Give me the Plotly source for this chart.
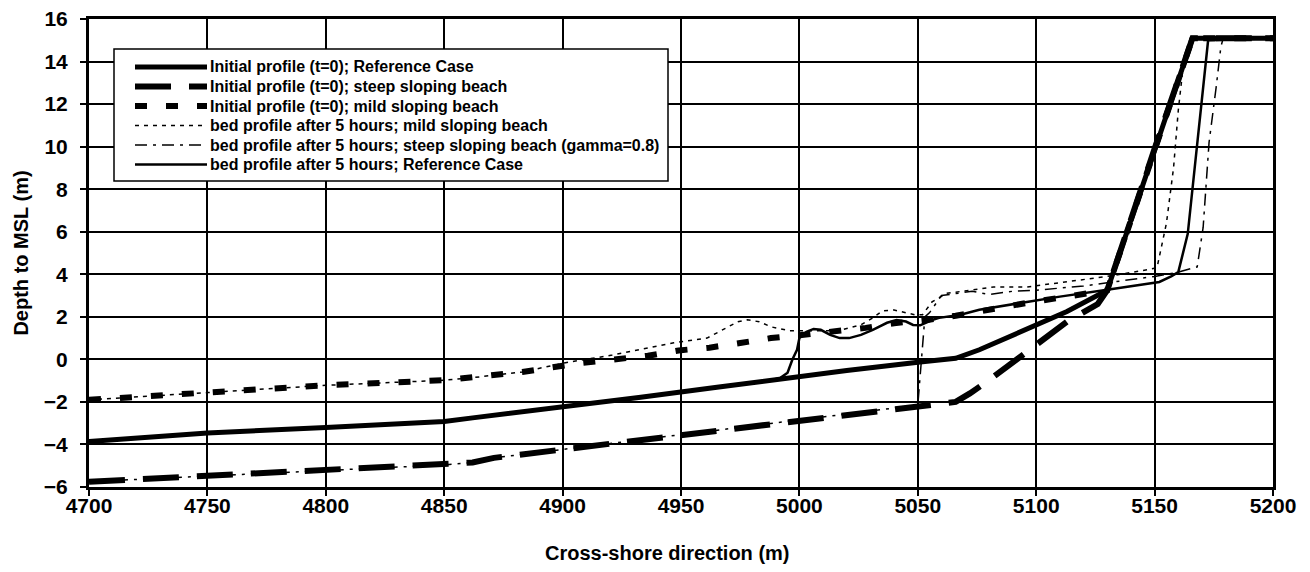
import plotly.graph_objects as go

# Bed level (m relative to MSL) along the cross-shore axis (m)

# Initial profile, reference case
ref0_x = [4700, 4750, 4800, 4850, 4862, 4900, 4933, 4966, 4992, 5020, 5051, 5066, 5076, 5096, 5113, 5130, 5150, 5166, 5200]
ref0_y = [-3.86, -3.46, -3.20, -2.92, -2.75, -2.25, -1.78, -1.30, -0.92, -0.52, -0.12, 0.05, 0.45, 1.39, 2.25, 3.25, 9.9, 15.1, 15.1]

# Initial profile, steep sloping beach
steep0_x = [4700, 4750, 4800, 4850, 4862, 4871, 4899, 4950, 5000, 5025, 5044, 5054, 5066, 5072, 5079, 5096, 5103, 5113, 5126, 5130, 5150, 5166, 5200]
steep0_y = [-5.75, -5.48, -5.23, -4.96, -4.85, -4.63, -4.25, -3.54, -2.85, -2.50, -2.23, -2.10, -2.00, -1.60, -1.06, 0.35, 0.92, 1.77, 2.60, 3.25, 9.9, 15.1, 15.1]

# Initial profile, mild sloping beach
mild0_x = [4700, 4724, 4750, 4800, 4850, 4862, 4883, 4908, 4922, 4936, 4949, 4962, 4975, 4988, 5001, 5014, 5028, 5040, 5054, 5066, 5096, 5130, 5150, 5166, 5200]
mild0_y = [-1.90, -1.75, -1.56, -1.22, -0.98, -0.86, -0.59, -0.17, 0.00, 0.17, 0.42, 0.55, 0.77, 1.00, 1.15, 1.29, 1.48, 1.70, 1.85, 2.05, 2.65, 3.25, 9.9, 15.1, 15.1]

# Bed profile after 5 hours, mild sloping beach
mild5_x = [4700, 4724, 4750, 4800, 4850, 4862, 4883, 4903, 4921, 4934, 4947, 4961, 4969, 4974, 4978, 4983, 4988, 4992, 4996, 5005, 5012, 5018, 5026, 5031, 5035, 5040, 5045, 5049, 5052, 5056, 5062, 5068, 5082, 5096, 5110, 5121, 5130, 5141, 5151, 5155, 5158, 5160, 5162, 5165, 5200]
mild5_y = [-1.90, -1.75, -1.56, -1.22, -0.98, -0.86, -0.59, -0.12, 0.20, 0.49, 0.78, 1.00, 1.49, 1.77, 1.86, 1.77, 1.53, 1.43, 1.34, 1.35, 1.35, 1.39, 1.62, 1.95, 2.28, 2.32, 2.19, 2.09, 2.10, 2.70, 3.10, 3.20, 3.40, 3.40, 3.60, 3.74, 3.90, 4.10, 4.30, 6.4, 9.0, 11.7, 13.7, 15.1, 15.1]

# Bed profile after 5 hours, steep sloping beach (gamma=0.8)
steep5_x = [4700, 4750, 4800, 4850, 4862, 4871, 4899, 4950, 5000, 5025, 5044, 5050, 5053, 5055, 5060, 5066, 5073, 5080, 5090, 5100, 5110, 5120, 5130, 5140, 5150, 5160, 5168, 5170.5, 5173, 5176, 5178, 5179, 5200]
steep5_y = [-5.75, -5.48, -5.23, -4.96, -4.85, -4.63, -4.25, -3.54, -2.85, -2.50, -2.23, -2.15, 2.00, 2.20, 3.00, 3.10, 3.20, 3.05, 3.20, 3.25, 3.35, 3.45, 3.60, 3.75, 3.90, 4.10, 4.35, 6.2, 10.2, 12.8, 14.7, 15.1, 15.1]

# Bed profile after 5 hours, reference case
ref5_x = [4700, 4750, 4800, 4850, 4862, 4900, 4933, 4966, 4988, 4992, 4995, 4997, 4999, 5000, 5003, 5006, 5009, 5013, 5017, 5021, 5026, 5031, 5037, 5041, 5045, 5048, 5051, 5056, 5059, 5068, 5076, 5096, 5110, 5130, 5140, 5152, 5157, 5160, 5164, 5168, 5172.6, 5200]
ref5_y = [-3.86, -3.46, -3.20, -2.92, -2.75, -2.25, -1.78, -1.30, -0.98, -0.87, -0.63, -0.02, 0.45, 1.00, 1.29, 1.43, 1.39, 1.15, 1.00, 1.00, 1.15, 1.39, 1.72, 1.85, 1.78, 1.62, 1.60, 1.85, 1.95, 2.10, 2.33, 2.70, 2.95, 3.27, 3.45, 3.64, 3.90, 4.10, 5.9, 10.0, 15.0, 15.1]

legend_labels = [
    "Initial profile (t=0); Reference Case",
    "Initial profile (t=0); steep sloping beach",
    "Initial profile (t=0); mild sloping beach",
    "bed profile after 5 hours; mild sloping beach",
    "bed profile after 5 hours; steep sloping beach (gamma=0.8)",
    "bed profile after 5 hours; Reference Case",
]

x_ticks = [4700, 4750, 4800, 4850, 4900, 4950, 5000, 5050, 5100, 5150, 5200]
y_ticks = [-6, -4, -2, 0, 2, 4, 6, 8, 10, 12, 14, 16]

FONT = "Liberation Sans, Arial, sans-serif"
FIG_W, FIG_H = 1310, 572
ML, MR, MT, MB = 89, 37, 19, 85
PW = FIG_W - ML - MR
PH = FIG_H - MT - MB

# line styles: (width, dash)
styles = [
    (5, "solid"),
    (6, "36px,18px"),
    (6, "12px,19px"),
    (1.5, "4px,5px"),
    (1.5, "12px,6px,3px,6px"),
    (2.5, "solid"),
]
data = [
    (ref0_x, ref0_y),
    (steep0_x, steep0_y),
    (mild0_x, mild0_y),
    (mild5_x, mild5_y),
    (steep5_x, steep5_y),
    (ref5_x, ref5_y),
]

fig = go.Figure()
for (xs, ys), (w, dash), name in zip(data, styles, legend_labels):
    fig.add_trace(go.Scatter(
        x=xs, y=ys, mode="lines", name=name, showlegend=False,
        line=dict(color="black", width=w, dash=dash),
    ))


def fx(px):
    return (px - ML) / PW


def fy(py):
    return (FIG_H - MB - py) / PH


# Legend box with long line samples
shapes = [dict(type="rect", xref="paper", yref="paper",
               x0=fx(114), x1=fx(668), y0=fy(181), y1=fy(49),
               line=dict(color="black", width=1.5), fillcolor="white", layer="above")]
annotations = []
row_y = [67, 86.5, 106, 125.5, 145, 164.5]
for (w, dash), label, ry in zip(styles, legend_labels, row_y):
    shapes.append(dict(type="line", xref="paper", yref="paper",
                       x0=fx(135), x1=fx(207), y0=fy(ry), y1=fy(ry),
                       line=dict(color="black", width=w, dash=dash), layer="above"))
    annotations.append(dict(xref="paper", yref="paper", x=fx(208), y=fy(ry),
                            xanchor="left", yanchor="middle", showarrow=False,
                            text=label,
                            font=dict(family=FONT, size=16, color="black", weight="bold")))

# x-axis title, centred on the chart area
annotations.append(dict(xref="paper", yref="paper", x=fx(667), y=fy(553),
                        xanchor="center", yanchor="middle", showarrow=False,
                        text="Cross-shore direction (m)",
                        font=dict(family=FONT, size=20, color="black", weight="bold")))

axis_common = dict(
    showline=True, linecolor="black", linewidth=3, mirror=True,
    showgrid=True, gridcolor="black", gridwidth=1.5,
    zeroline=False, ticks="outside", ticklen=6, tickwidth=1.5, tickcolor="black",
    tickfont=dict(family=FONT, size=21, color="black", weight="bold"),
    automargin=False,
)

fig.update_layout(
    width=FIG_W, height=FIG_H,
    margin=dict(l=ML, r=MR, t=MT, b=MB),
    paper_bgcolor="white", plot_bgcolor="white",
    showlegend=False,
    shapes=shapes, annotations=annotations,
    xaxis=dict(range=[4700, 5200], tickvals=x_ticks, ticklabelstandoff=-8,
               **axis_common),
    yaxis=dict(range=[-6, 16], tickvals=y_ticks, ticklabelstandoff=8,
               title=dict(text="Depth to MSL (m)", standoff=10,
                          font=dict(family=FONT, size=20, color="black", weight="bold")),
               **axis_common),
)

fig.write_html("out.html")
